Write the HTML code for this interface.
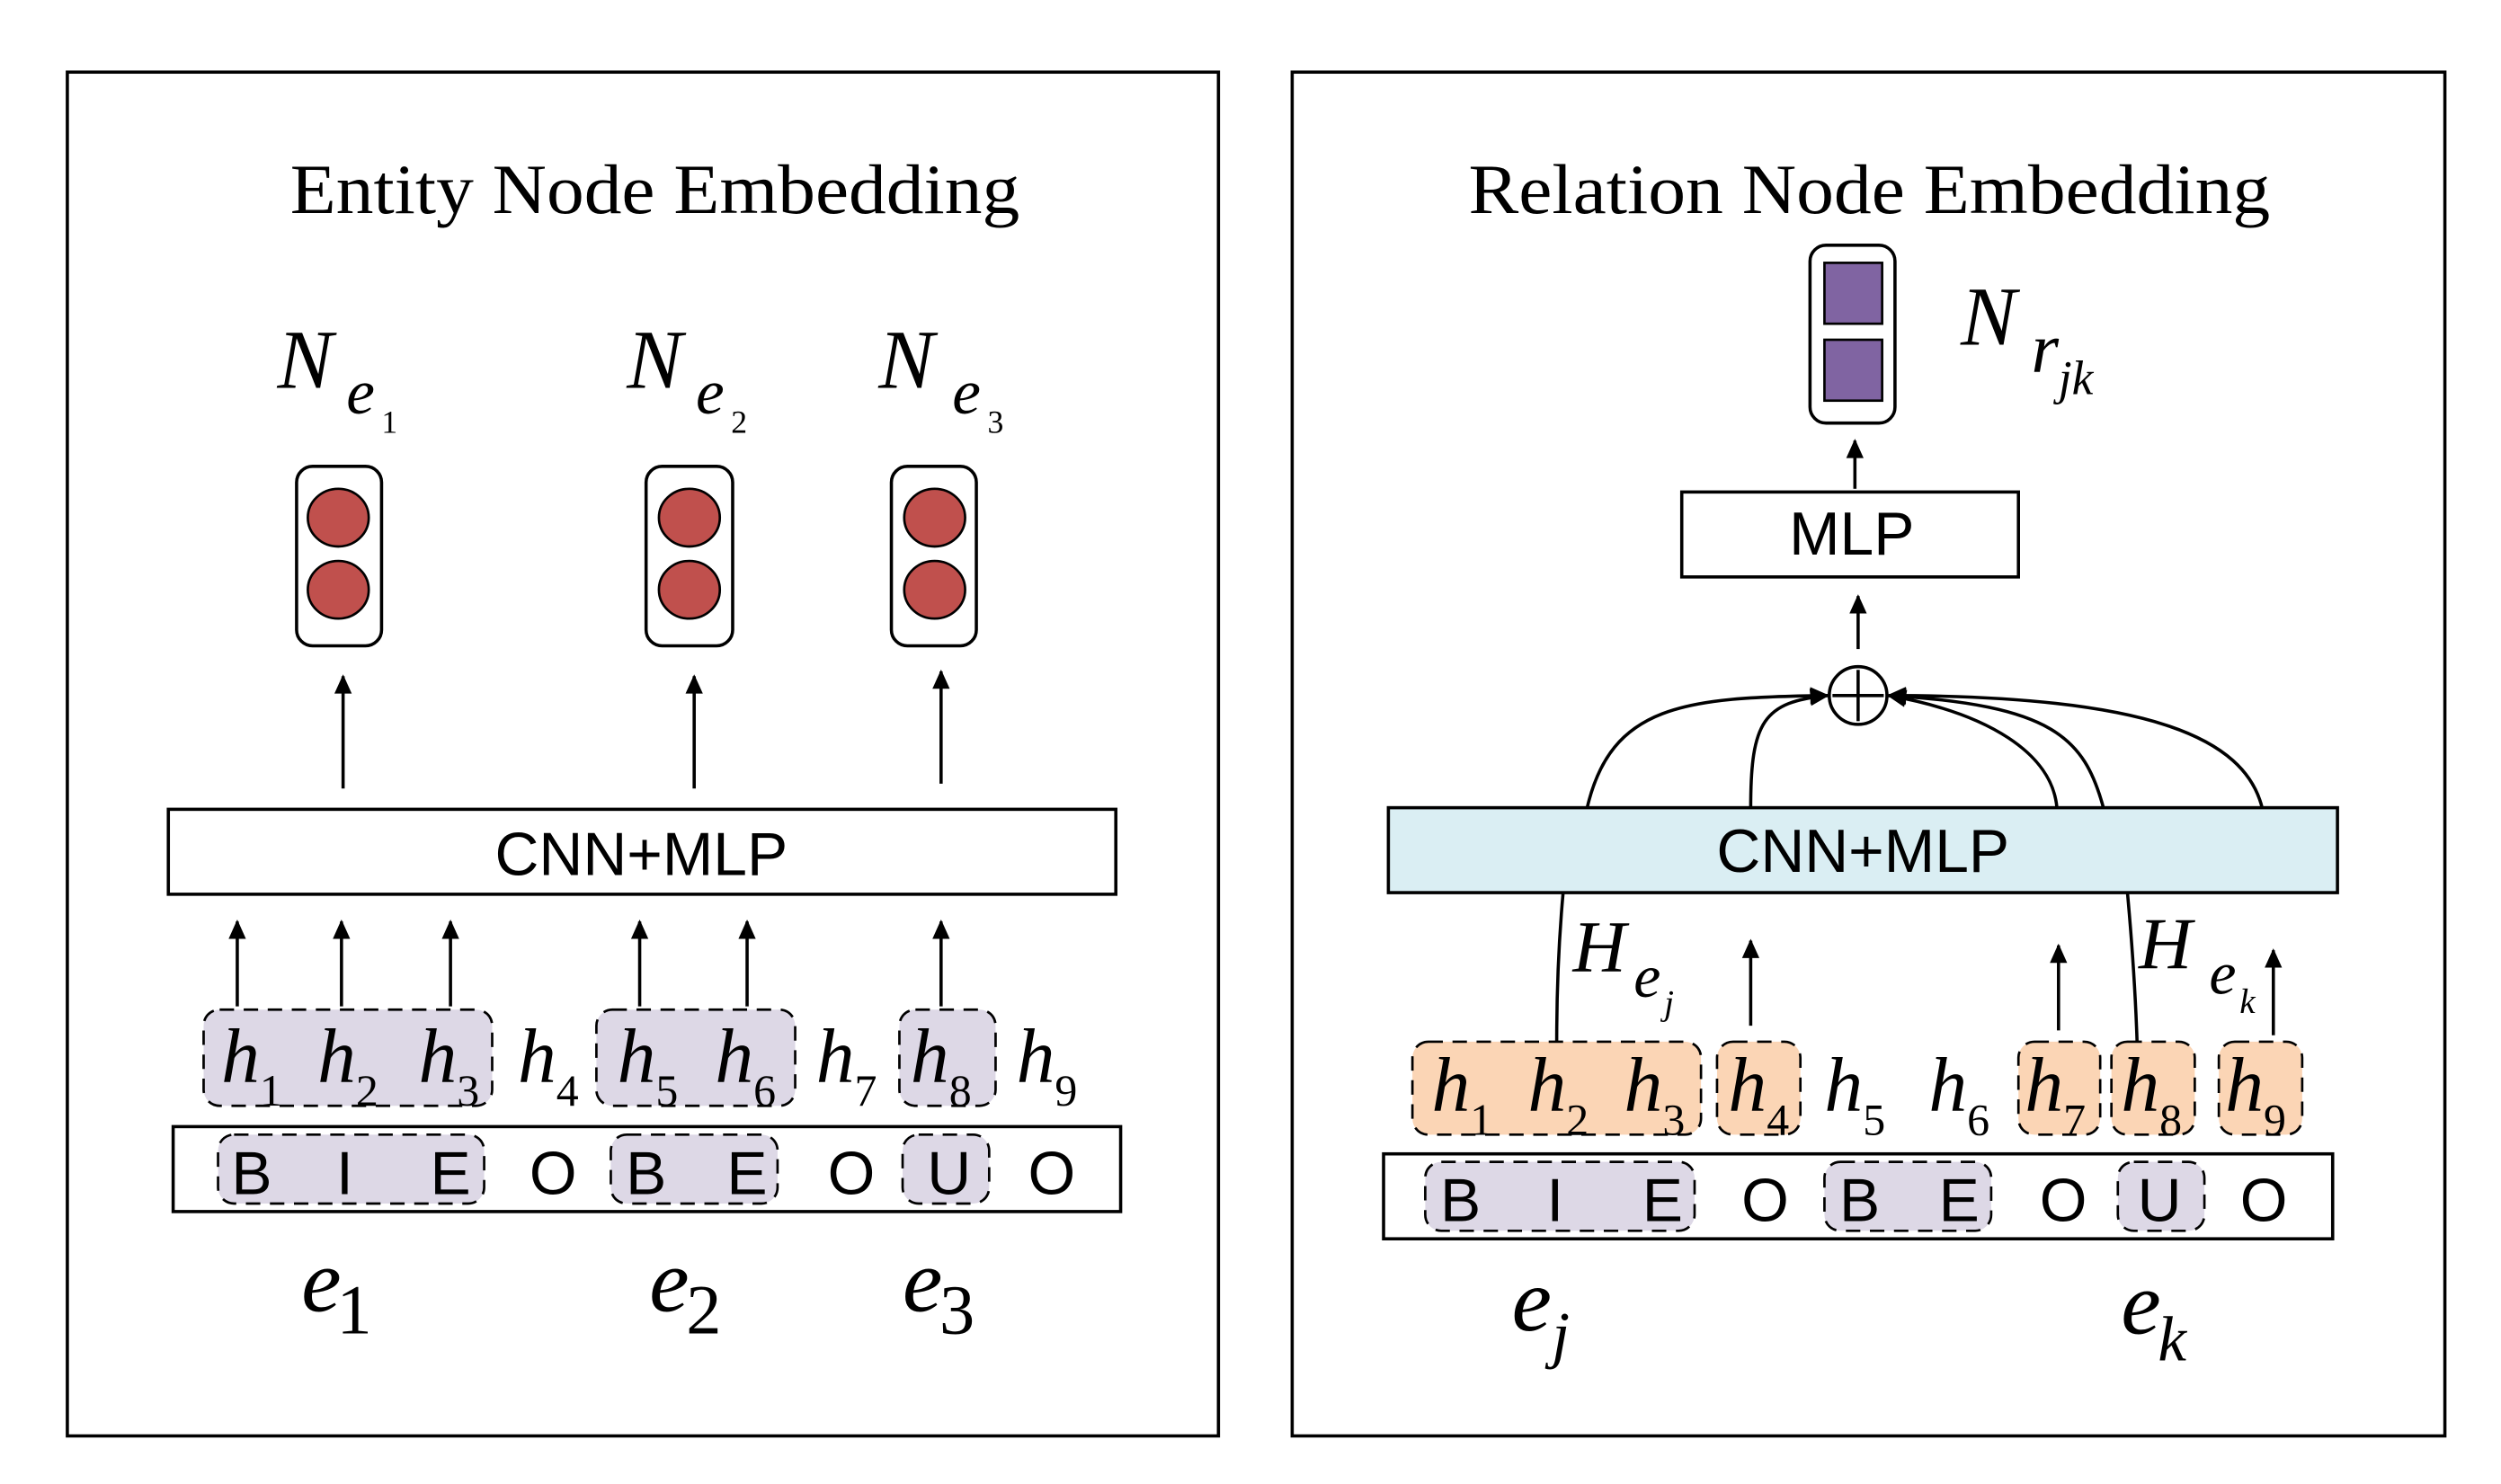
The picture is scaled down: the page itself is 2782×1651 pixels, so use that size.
<!DOCTYPE html>
<html><head><meta charset="utf-8"><style>
html,body{margin:0;padding:0;background:#fff;}
svg{display:block;}
.t{font-family:"Liberation Serif",serif;}
.i{font-family:"Liberation Serif",serif;font-style:italic;}
.s{font-family:"Liberation Sans",sans-serif;}
</style></head><body>
<svg width="2782" height="1651" viewBox="0 0 1560 926" preserveAspectRatio="none" xmlns="http://www.w3.org/2000/svg">
<defs>
<marker id="a" viewBox="0 0 10 10" refX="9" refY="5" markerWidth="14" markerHeight="12" markerUnits="userSpaceOnUse" orient="auto"><path d="M0,0.5 L10,5 L0,9.5 z" fill="#000"/></marker>
</defs>
<g fill="none" stroke="#000" stroke-width="2">
<rect x="42" y="45" width="718" height="851"/>
<rect x="806" y="45" width="719" height="851"/>
</g>
<text class="t" x="181" y="133" font-size="44" textLength="455" lengthAdjust="spacingAndGlyphs">Entity Node Embedding</text>
<text class="t" x="916" y="133" font-size="44" textLength="500" lengthAdjust="spacingAndGlyphs">Relation Node Embedding</text>

<!-- Left N labels -->
<g class="i">
<text x="173" y="242" font-size="52">N</text><text x="216" y="258" font-size="40">e</text><text x="238" y="270" font-size="20" font-style="normal">1</text>
<text x="391" y="242" font-size="52">N</text><text x="434" y="258" font-size="40">e</text><text x="456" y="270" font-size="20" font-style="normal">2</text>
<text x="548" y="242" font-size="52">N</text><text x="594" y="258" font-size="40">e</text><text x="616" y="270" font-size="20" font-style="normal">3</text>
</g>
<g stroke="#000" stroke-width="2">
<rect x="185" y="291" width="53" height="112" rx="10" fill="#fff"/>
<rect x="403" y="291" width="54" height="112" rx="10" fill="#fff"/>
<rect x="556" y="291" width="53" height="112" rx="10" fill="#fff"/>
<g fill="#c0504d" stroke-width="1.5">
<ellipse cx="211" cy="323" rx="19" ry="18"/><ellipse cx="211" cy="368" rx="19" ry="18"/>
<ellipse cx="430" cy="323" rx="19" ry="18"/><ellipse cx="430" cy="368" rx="19" ry="18"/>
<ellipse cx="583" cy="323" rx="19" ry="18"/><ellipse cx="583" cy="368" rx="19" ry="18"/>
</g>
</g>
<g stroke="#000" stroke-width="2" marker-end="url(#a)">
<line x1="214" y1="492" x2="214" y2="422"/>
<line x1="433" y1="492" x2="433" y2="422"/>
<line x1="587" y1="489" x2="587" y2="419"/>
<line x1="148" y1="628" x2="148" y2="575"/>
<line x1="213" y1="628" x2="213" y2="575"/>
<line x1="281" y1="628" x2="281" y2="575"/>
<line x1="399" y1="628" x2="399" y2="575"/>
<line x1="466" y1="628" x2="466" y2="575"/>
<line x1="587" y1="628" x2="587" y2="575"/>
</g>
<rect x="105" y="505" width="591" height="53" fill="#fff" stroke="#000" stroke-width="2"/>
<text class="s" x="400" y="546" font-size="38" text-anchor="middle">CNN+MLP</text>

<g fill="#ddd8e6" stroke="#000" stroke-width="1.5" stroke-dasharray="9,6">
<rect x="127" y="630" width="180" height="60" rx="10"/>
<rect x="372" y="630" width="124" height="60" rx="10"/>
<rect x="561" y="630" width="60" height="60" rx="10"/>
</g>
<g class="i" font-size="48">
<text x="138" y="675">h</text><text x="198" y="675">h</text><text x="261" y="675">h</text><text x="323" y="675">h</text><text x="385" y="675">h</text><text x="446" y="675">h</text><text x="509" y="675">h</text><text x="568" y="675">h</text><text x="634" y="675">h</text>
</g>
<g class="t" font-size="28">
<text x="162" y="690">1</text><text x="222" y="690">2</text><text x="285" y="690">3</text><text x="347" y="690">4</text><text x="409" y="690">5</text><text x="470" y="690">6</text><text x="533" y="690">7</text><text x="592" y="690">8</text><text x="658" y="690">9</text>
</g>
<rect x="108" y="703" width="591" height="53" fill="#fff" stroke="#000" stroke-width="2"/>
<g fill="#ddd8e6" stroke="#000" stroke-width="1.5" stroke-dasharray="9,6">
<rect x="136" y="708" width="166" height="43" rx="10"/>
<rect x="381" y="708" width="104" height="43" rx="10"/>
<rect x="563" y="708" width="54" height="43" rx="10"/>
</g>
<g class="s" font-size="38" text-anchor="middle">
<text x="157" y="745">B</text><text x="215" y="745">I</text><text x="281" y="745">E</text><text x="345" y="745">O</text><text x="403" y="745">B</text><text x="466" y="745">E</text><text x="531" y="745">O</text><text x="592" y="745">U</text><text x="656" y="745">O</text>
</g>
<g font-size="56">
<text class="i" x="188" y="818">e</text><text class="t" x="210" y="832" font-size="44">1</text>
<text class="i" x="405" y="818">e</text><text class="t" x="428" y="832" font-size="44">2</text>
<text class="i" x="563" y="818">e</text><text class="t" x="586" y="832" font-size="44">3</text>
</g>

<!-- Right panel -->
<rect x="1129" y="153" width="53" height="111" rx="10" fill="#fff" stroke="#000" stroke-width="2"/>
<rect x="1138" y="164" width="36" height="38" fill="#8064a2" stroke="#000" stroke-width="1.5"/>
<rect x="1138" y="212" width="36" height="38" fill="#8064a2" stroke="#000" stroke-width="1.5"/>
<text class="i" x="1223" y="215" font-size="52">N</text>
<text class="i" x="1267" y="232" font-size="44">r</text>
<text class="i" x="1284" y="246" font-size="30">jk</text>
<g stroke="#000" stroke-width="2" marker-end="url(#a)">
<line x1="1157" y1="305" x2="1157" y2="275"/>
<line x1="1159" y1="405" x2="1159" y2="372"/>
</g>
<rect x="1049" y="307" width="210" height="53" fill="#fff" stroke="#000" stroke-width="2"/>
<text class="s" x="1155" y="346" font-size="38" text-anchor="middle">MLP</text>
<circle cx="1159" cy="434" r="18" fill="#fff" stroke="#000" stroke-width="2"/>
<line x1="1159" y1="418" x2="1159" y2="450" stroke="#000" stroke-width="2"/>
<line x1="1143" y1="434" x2="1175" y2="434" stroke="#000" stroke-width="2"/>
<g fill="none" stroke="#000" stroke-width="2" marker-end="url(#a)">
<path d="M990,504 C1005,440 1050,435 1140,434"/>
<path d="M1092,504 C1092,450 1100,438 1140,434"/>
<path d="M1283,504 C1280,470 1240,445 1178,434"/>
<path d="M1312,504 C1300,460 1280,440 1178,434"/>
<path d="M1411,504 C1400,460 1340,434 1178,434"/>
</g>
<rect x="866" y="504" width="592" height="53" fill="#daeef3" stroke="#000" stroke-width="2"/>
<text class="s" x="1162" y="544" font-size="38" text-anchor="middle">CNN+MLP</text>
<g fill="none" stroke="#000" stroke-width="2">
<path d="M975,557 C972,590 971,620 971,650"/>
<path d="M1327,557 C1330,590 1332,620 1333,650"/>
</g>
<text class="i" x="981" y="606" font-size="46">H</text><text class="i" x="1019" y="622" font-size="38">e</text><text class="i" x="1038" y="633" font-size="22">j</text>
<text class="i" x="1334" y="604" font-size="46">H</text><text class="i" x="1378" y="620" font-size="38">e</text><text class="i" x="1397" y="632" font-size="22">k</text>
<g stroke="#000" stroke-width="2" marker-end="url(#a)">
<line x1="1092" y1="640" x2="1092" y2="587"/>
<line x1="1284" y1="643" x2="1284" y2="590"/>
<line x1="1418" y1="646" x2="1418" y2="593"/>
</g>
<g fill="#fbd5b5" stroke="#000" stroke-width="1.5" stroke-dasharray="9,6">
<rect x="881" y="650" width="180" height="58" rx="10"/>
<rect x="1071" y="650" width="52" height="58" rx="10"/>
<rect x="1259" y="650" width="51" height="58" rx="10"/>
<rect x="1317" y="650" width="52" height="58" rx="10"/>
<rect x="1384" y="650" width="52" height="58" rx="10"/>
</g>
<g class="i" font-size="48">
<text x="893" y="693">h</text><text x="953" y="693">h</text><text x="1013" y="693">h</text><text x="1078" y="693">h</text><text x="1138" y="693">h</text><text x="1203" y="693">h</text><text x="1263" y="693">h</text><text x="1323" y="693">h</text><text x="1388" y="693">h</text>
</g>
<g class="t" font-size="28">
<text x="917" y="708">1</text><text x="977" y="708">2</text><text x="1037" y="708">3</text><text x="1102" y="708">4</text><text x="1162" y="708">5</text><text x="1227" y="708">6</text><text x="1287" y="708">7</text><text x="1347" y="708">8</text><text x="1412" y="708">9</text>
</g>
<rect x="863" y="720" width="592" height="53" fill="#fff" stroke="#000" stroke-width="2"/>
<g fill="#ddd8e6" stroke="#000" stroke-width="1.5" stroke-dasharray="9,6">
<rect x="889" y="725" width="168" height="43" rx="10"/>
<rect x="1138" y="725" width="104" height="43" rx="10"/>
<rect x="1321" y="725" width="54" height="43" rx="10"/>
</g>
<g class="s" font-size="38" text-anchor="middle">
<text x="911" y="762">B</text><text x="970" y="762">I</text><text x="1037" y="762">E</text><text x="1101" y="762">O</text><text x="1160" y="762">B</text><text x="1222" y="762">E</text><text x="1287" y="762">O</text><text x="1347" y="762">U</text><text x="1412" y="762">O</text>
</g>
<text class="i" x="943" y="830" font-size="56">e</text><text class="i" x="968" y="846" font-size="40">j</text>
<text class="i" x="1323" y="832" font-size="56">e</text><text class="i" x="1346" y="849" font-size="40">k</text>
</svg>
</body></html>
